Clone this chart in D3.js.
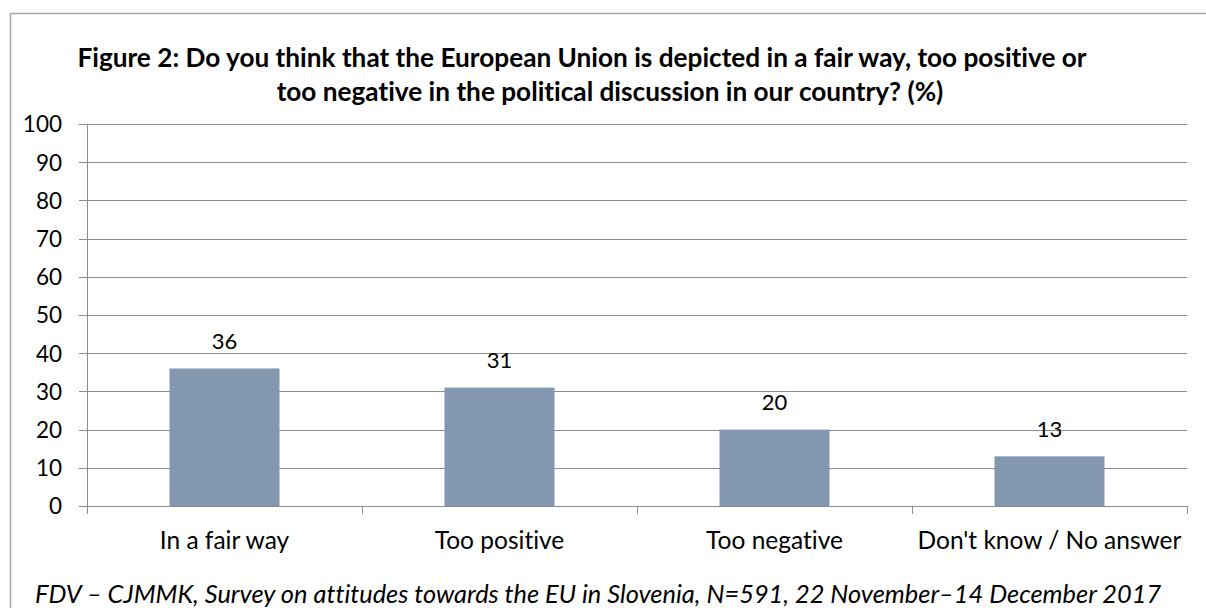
<!DOCTYPE html>
<html>
<head>
<meta charset="utf-8">
<script src="https://cdn.jsdelivr.net/npm/d3@7"></script>
<style>
  html, body { margin: 0; padding: 0; background: #fff; }
  svg { display: block; }
  text {
    font-family: "Lato", "Open Sans", "Liberation Sans", sans-serif;
    fill: #000;
    font-variant-ligatures: none;
    font-feature-settings: "liga" 0, "clig" 0;
  }
</style>
</head>
<body>
<svg id="chart" width="1206" height="608"></svg>
<script>
// Answer categories and shares (%)
const categories = ["In a fair way", "Too positive", "Too negative", "Don't know / No answer"];
const shares = [36, 31, 20, 13];
const yTicks = [0, 10, 20, 30, 40, 50, 60, 70, 80, 90, 100];
const titleLines = [
  "Figure 2: Do you think that the European Union is depicted in a fair way, too positive or",
  "too negative in the political discussion in our country? (%)"
];
const sourceNote = "FDV \u2013 CJMMK, Survey on attitudes towards the EU in Slovenia, N=591, 22 November\u201314 December 2017";

const svg = d3.select("#chart");
const W = 1206, H = 608;
const plot = { left: 87, right: 1187, top: 124, bottom: 506 };

// Outer frame of the chart area
svg.append("rect")
  .attr("x", 10.5).attr("y", 13.5)
  .attr("width", W).attr("height", H)
  .attr("fill", "none").attr("stroke", "#a6a6a6").attr("stroke-width", 1.5);

// Title, two centred lines
const titleCenters = [582, 610];
svg.append("g").selectAll("text")
  .data(titleLines)
  .join("text")
  .attr("x", (d, i) => titleCenters[i])
  .attr("y", (d, i) => 67 + i * 34)
  .attr("text-anchor", "middle")
  .attr("font-size", 26.2)
  .attr("font-weight", "bold")
  .text(d => d);

const x = d3.scaleBand()
  .domain(categories)
  .range([plot.left, plot.right])
  .paddingInner(0.6)
  .paddingOuter(0.3);

const y = d3.scaleLinear()
  .domain([0, 100])
  .range([plot.bottom, plot.top]);

// Gridlines and y-axis labels
const yAxis = d3.axisLeft(y)
  .tickValues(yTicks)
  .tickSize(plot.right - plot.left + 8)
  .tickFormat(d3.format("d"));

const gy = svg.append("g")
  .attr("transform", `translate(${plot.right},0)`)
  .call(yAxis);
gy.select(".domain").remove();
gy.selectAll(".tick line")
  .attr("stroke", "#8c8c8c")
  .attr("shape-rendering", "crispEdges");
gy.selectAll(".tick text")
  .attr("x", -(plot.right - plot.left) - 25)
  .attr("dy", "0.35em")
  .attr("font-size", 22.5)
  .attr("font-family", "Lato, sans-serif")
  .attr("fill", "#000");

// Vertical axis line
svg.append("line")
  .attr("x1", plot.left).attr("x2", plot.left)
  .attr("y1", plot.top).attr("y2", plot.bottom + 8)
  .attr("stroke", "#8c8c8c")
  .attr("shape-rendering", "crispEdges");

// Category axis with boundary ticks
const boundaries = d3.range(categories.length + 1).map(i => plot.left + i * (plot.right - plot.left) / categories.length);
svg.append("line")
  .attr("x1", plot.left).attr("x2", plot.right)
  .attr("y1", plot.bottom).attr("y2", plot.bottom)
  .attr("stroke", "#8c8c8c")
  .attr("shape-rendering", "crispEdges");
svg.append("g").selectAll("line")
  .data(boundaries)
  .join("line")
  .attr("x1", d => d).attr("x2", d => d)
  .attr("y1", plot.bottom).attr("y2", plot.bottom + 8)
  .attr("stroke", "#8c8c8c")
  .attr("shape-rendering", "crispEdges");

const gx = svg.append("g")
  .attr("transform", `translate(0,${plot.bottom})`)
  .call(d3.axisBottom(x).tickSize(0));
gx.select(".domain").remove();
gx.selectAll(".tick text")
  .attr("y", 43)
  .attr("dy", 0)
  .attr("font-size", 24.5)
  .attr("font-family", "Lato, sans-serif")
  .attr("fill", "#000");

// Bars
svg.append("g").selectAll("rect")
  .data(shares)
  .join("rect")
  .attr("x", (d, i) => x(categories[i]))
  .attr("y", d => y(d))
  .attr("width", x.bandwidth())
  .attr("height", d => y(0) - y(d))
  .attr("fill", "#8497b0");

// Value labels
svg.append("g").selectAll("text")
  .data(shares)
  .join("text")
  .attr("x", (d, i) => x(categories[i]) + x.bandwidth() / 2)
  .attr("y", d => y(d) - 19.5)
  .attr("text-anchor", "middle")
  .attr("font-size", 22)
  .text(d => d);

// Source note
svg.append("text")
  .attr("x", 35)
  .attr("y", 603)
  .attr("font-size", 25.4)
  .attr("font-style", "italic")
  .text(sourceNote);
</script>
</body>
</html>
